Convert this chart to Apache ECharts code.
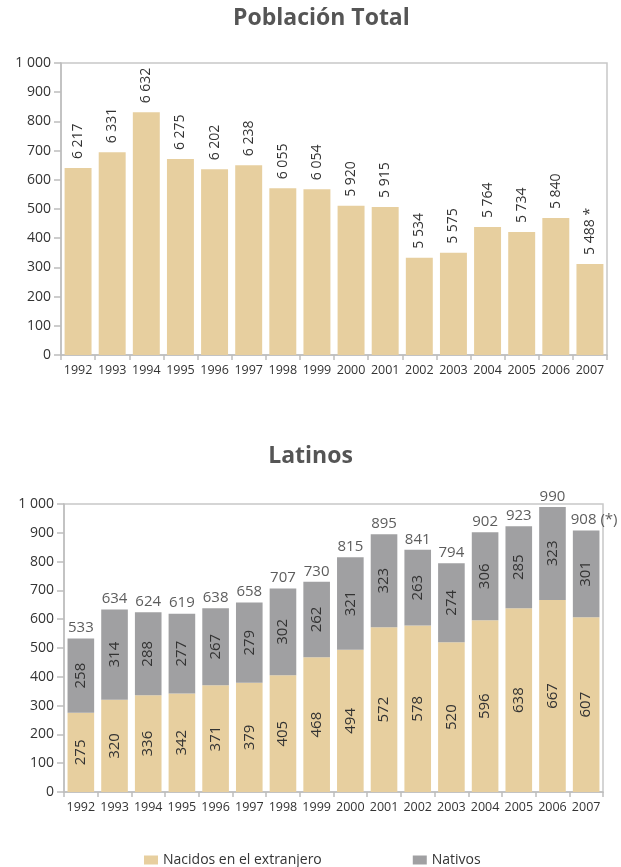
<!DOCTYPE html>
<html>
<head>
<meta charset="utf-8">
<script src="https://cdn.jsdelivr.net/npm/echarts@6/dist/echarts.min.js"></script>
<style>
  html, body { margin: 0; padding: 0; background: #fff; }
  #chart { width: 621px; height: 867px; }
</style>
</head>
<body>
<div id="chart"></div>
<script>
// años
const years = ['1992', '1993', '1994', '1995', '1996', '1997', '1998', '1999',
  '2000', '2001', '2002', '2003', '2004', '2005', '2006', '2007'];

// Población Total: altura de barra (escala del gráfico) y etiqueta impresa
const totalBars = [640, 694, 831, 671, 636, 650, 571, 568, 511, 507, 333, 350, 438, 421, 469, 312];
const totalLabels = ['6 217', '6 331', '6 632', '6 275', '6 202', '6 238', '6 055', '6 054',
  '5 920', '5 915', '5 534', '5 575', '5 764', '5 734', '5 840', '5 488 *'];

// Latinos
const nacidos = [275, 320, 336, 342, 371, 379, 405, 468, 494, 572, 578, 520, 596, 638, 667, 607];
const nativos = [258, 314, 288, 277, 267, 279, 302, 262, 321, 323, 263, 274, 306, 285, 323, 301];
const latinosTotal = [533, 634, 624, 619, 638, 658, 707, 730, 815, 895, 841, 794, 902, 923, 990, 908];

const yTicks = [0, 100, 200, 300, 400, 500, 600, 700, 800, 900, 1000];

const TAN = '#e7cf9f';
const GREY = '#a0a0a2';
const FONT = 'Open Sans';
const TXT = '#333';

function fmt(v) {
  return String(v).replace(/\B(?=(\d{3})+(?!\d))/g, ' ');
}

const chart = echarts.init(document.getElementById('chart'), null, { renderer: 'canvas' });

const yAxisBase = {
  type: 'value',
  min: yTicks[0],
  max: yTicks[yTicks.length - 1],
  interval: 100,
  splitLine: { show: false },
  axisLine: { show: true, lineStyle: { color: '#bdbdbd', width: 1.5 } },
  axisTick: { show: true, length: 7, lineStyle: { color: '#bdbdbd', width: 1.5 } },
  axisLabel: { color: TXT, fontFamily: FONT, fontSize: 14, margin: 10, formatter: fmt }
};

const xAxisBase = {
  type: 'category',
  data: years,
  axisLine: { lineStyle: { color: '#bdbdbd', width: 1.5 } },
  axisTick: { show: true, length: 5, alignWithLabel: false, lineStyle: { color: '#bdbdbd', width: 1.5 } },
  axisLabel: { color: TXT, fontFamily: FONT, fontSize: 12.5, margin: 9, interval: 0 }
};

const option = {
  animation: false,
  backgroundColor: '#fff',
  textStyle: { fontFamily: FONT },
  title: [
    {
      text: 'Población Total', left: 228, top: 2,
      textStyle: { fontFamily: FONT, fontSize: 23, fontWeight: 'bold', color: '#555' }
    },
    {
      text: 'Latinos', left: 'center', top: 440,
      textStyle: { fontFamily: FONT, fontSize: 23, fontWeight: 'bold', color: '#555' }
    }
  ],
  legend: {
    data: ['Nacidos en el extranjero', 'Nativos'],
    left: 139, top: 848,
    itemWidth: 14, itemHeight: 9, itemGap: 91,
    icon: 'rect',
    textStyle: { color: TXT, fontFamily: FONT, fontSize: 14 }
  },
  grid: [
    { left: 61, right: 14, top: 63, bottom: 512, show: true, borderColor: '#c8c8c8', borderWidth: 1.5 },
    { left: 64, right: 18, top: 504, bottom: 75, show: true, borderColor: '#c8c8c8', borderWidth: 1.5 }
  ],
  xAxis: [
    Object.assign({}, xAxisBase, { gridIndex: 0 }),
    Object.assign({}, xAxisBase, { gridIndex: 1 })
  ],
  yAxis: [
    Object.assign({}, yAxisBase, { gridIndex: 0 }),
    Object.assign({}, yAxisBase, { gridIndex: 1 })
  ],
  series: [
    {
      name: 'Población Total',
      type: 'bar',
      xAxisIndex: 0, yAxisIndex: 0,
      data: totalBars,
      barCategoryGap: '21%',
      itemStyle: { color: TAN },
      label: {
        show: true, position: 'top', rotate: 90, distance: 9,
        align: 'left', verticalAlign: 'middle',
        color: TXT, fontFamily: FONT, fontSize: 14,
        formatter: p => totalLabels[p.dataIndex]
      }
    },
    {
      name: 'Nacidos en el extranjero',
      type: 'bar', stack: 'lat',
      xAxisIndex: 1, yAxisIndex: 1,
      data: nacidos,
      barCategoryGap: '21%',
      itemStyle: { color: TAN },
      label: {
        show: true, position: 'inside', rotate: 90,
        color: TXT, fontFamily: FONT, fontSize: 15
      }
    },
    {
      name: 'Nativos',
      type: 'bar', stack: 'lat',
      xAxisIndex: 1, yAxisIndex: 1,
      data: nativos,
      barCategoryGap: '21%',
      itemStyle: { color: GREY },
      label: {
        show: true, position: 'inside', rotate: 90,
        color: TXT, fontFamily: FONT, fontSize: 15
      }
    },
    {
      name: 'Total',
      type: 'scatter',
      xAxisIndex: 1, yAxisIndex: 1,
      symbolSize: 0,
      silent: true,
      data: latinosTotal.map((v, i) => i === latinosTotal.length - 1
        ? { value: v, label: { formatter: v + ' (*)', offset: [8, 0] } }
        : v),
      label: {
        show: true, position: 'top', distance: 3,
        color: TXT, fontFamily: FONT, fontSize: 15
      }
    }
  ]
};

chart.setOption(option);
</script>
</body>
</html>
